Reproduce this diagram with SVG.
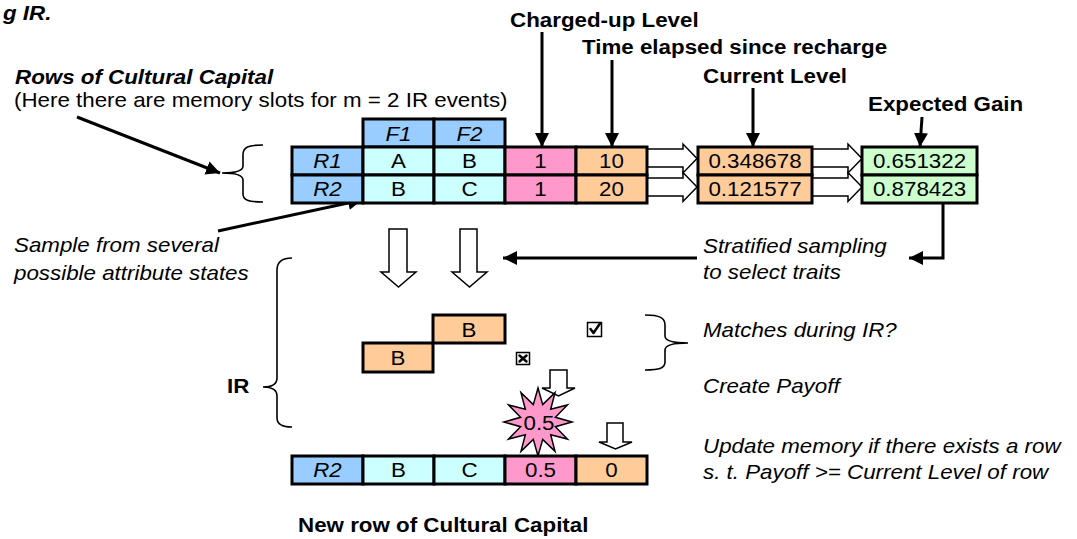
<svg xmlns="http://www.w3.org/2000/svg" width="1077" height="539" viewBox="0 0 1077 539">
<defs>
<style>
.t{font-family:"Liberation Sans",Arial,Helvetica,sans-serif;font-size:20.5px;fill:#000}
.b{font-weight:bold}
.i{font-style:italic}
.c{text-anchor:middle}
.cell{stroke:#000;stroke-width:3}
.blue{fill:#99CCFF}.cyan{fill:#CCFFFF}.pink{fill:#FF99CC}.orange{fill:#FFCC99}.green{fill:#CCFFCC}
.hollow{fill:#fff;stroke:#000;stroke-width:1.5;stroke-linejoin:miter}
.arr{fill:none;stroke:#000;stroke-width:3;marker-end:url(#ah)}
.brace{fill:none;stroke:#000;stroke-width:1.6}
.box{fill:#fff;stroke:#000;stroke-width:1.5}
.mark{fill:none;stroke:#000;stroke-width:2.5;stroke-linecap:round;stroke-linejoin:round}
</style>
<marker id="ah" markerUnits="userSpaceOnUse" markerWidth="16" markerHeight="16" refX="14" refY="7" orient="auto">
<path d="M0,0 L14,7 L0,14 z" fill="#000"/>
</marker>
</defs>
<rect width="1077" height="539" fill="#fff"/>

<g id="titles">
<text class="t b i" transform="translate(3 20) scale(1.09 1)">g IR.</text>
<text class="t b i" transform="translate(15 84) scale(1.09 1)">Rows of Cultural Capital</text>
<text class="t" transform="translate(14 107) scale(1.09 1)">(Here there are memory slots for m = 2 IR events)</text>
<text class="t b" transform="translate(510 27) scale(1.09 1)">Charged-up Level</text>
<text class="t b" transform="translate(582 54) scale(1.09 1)">Time elapsed since recharge</text>
<text class="t b" transform="translate(703 83) scale(1.09 1)">Current Level</text>
<text class="t b" transform="translate(868 111) scale(1.09 1)">Expected Gain</text>
<text class="t i" transform="translate(14 252) scale(1.09 1)">Sample from several</text>
<text class="t i" transform="translate(14 280) scale(1.09 1)">possible attribute states</text>
<text class="t i" transform="translate(703 253) scale(1.09 1)">Stratified sampling</text>
<text class="t i" transform="translate(703 279) scale(1.09 1)">to select traits</text>
<text class="t b" transform="translate(227 393) scale(1.09 1)">IR</text>
<text class="t i" transform="translate(703 337) scale(1.09 1)">Matches during IR?</text>
<text class="t i" transform="translate(703 393) scale(1.09 1)">Create Payoff</text>
<text class="t i" transform="translate(703 453) scale(1.09 1)">Update memory if there exists a row</text>
<text class="t i" transform="translate(703 479) scale(1.09 1)">s. t. Payoff &gt;= Current Level of row</text>
<text class="t b" transform="translate(298 532) scale(1.09 1)">New row of Cultural Capital</text>
</g>

<g id="connectors">
<polygon class="hollow" points="647,149 683,149 683,144 697,158.5 683,173 683,167 647,167"/>
<polygon class="hollow" points="647,178 683,178 683,172.5 697,187 683,201.5 683,196 647,196"/>
<polygon class="hollow" points="812,149 848,149 848,144 862,158.5 848,173 848,167 812,167"/>
<polygon class="hollow" points="812,178 848,178 848,172.5 862,187 848,201.5 848,196 812,196"/>
<polygon class="hollow" points="389,229 407,229 407,272 416,272 398.5,287 381,272 389,272"/>
<polygon class="hollow" points="460,229 477,229 477,272 487,272 469.5,287 452,272 460,272"/>
<polygon class="hollow" points="550,370 567,370 567,388 575,388 558.5,396 542,388 550,388"/>
<polygon class="hollow" points="607,423 623,423 623,442 632,442 615.5,449 599,442 607,442"/>
<line class="arr" x1="542" y1="32" x2="542" y2="147"/>
<line class="arr" x1="612" y1="60" x2="612" y2="147"/>
<line class="arr" x1="753" y1="88" x2="753" y2="147"/>
<line class="arr" x1="922" y1="117" x2="920" y2="147"/>
<line class="arr" x1="77" y1="117" x2="220" y2="173"/>
<line class="arr" x1="218" y1="231" x2="362" y2="200"/>
<line class="arr" x1="697" y1="258" x2="503" y2="258"/>
<polyline class="arr" points="943,203 943,258 909,258"/>
<path class="brace" d="M263,145 C248,145 243,147 243,155 L243,166 C243,171 236,173 222,173 C236,173 243,175 243,180 L243,194 C243,200 248,202 263,202"/>
<path class="brace" d="M292,258 C282,258 277,262 277,270 L277,378 C277,384 272,387 263,387 C272,387 277,390 277,396 L277,418 C277,424 282,427 292,427"/>
<path class="brace" d="M645,315 C660,315 665,318 665,325 L665,336 C665,341 672,343 688,343 C672,343 665,345 665,350 L665,362 C665,368 660,370 645,370"/>
</g>

<g id="table">
<rect class="cell blue" x="363" y="119" width="71" height="28"/>
<rect class="cell blue" x="434" y="119" width="71" height="28"/>
<text class="t i c" transform="translate(398.5 141) scale(1.09 1)">F1</text>
<text class="t i c" transform="translate(469.5 141) scale(1.09 1)">F2</text>
</g>

<g id="row-r1">
<rect class="cell blue" x="292" y="147" width="71" height="28"/>
<rect class="cell cyan" x="363" y="147" width="71" height="28"/>
<rect class="cell cyan" x="434" y="147" width="71" height="28"/>
<rect class="cell pink" x="505" y="147" width="71" height="28"/>
<rect class="cell orange" x="576" y="147" width="71" height="28"/>
<text class="t i c" transform="translate(327.5 168) scale(1.09 1)">R1</text>
<text class="t c" transform="translate(398.5 168) scale(1.09 1)">A</text>
<text class="t c" transform="translate(469.5 168) scale(1.09 1)">B</text>
<text class="t c" transform="translate(540.5 168) scale(1.09 1)">1</text>
<text class="t c" transform="translate(611.5 168) scale(1.09 1)">10</text>
</g>

<g id="row-r2">
<rect class="cell blue" x="292" y="175" width="71" height="28"/>
<rect class="cell cyan" x="363" y="175" width="71" height="28"/>
<rect class="cell cyan" x="434" y="175" width="71" height="28"/>
<rect class="cell pink" x="505" y="175" width="71" height="28"/>
<rect class="cell orange" x="576" y="175" width="71" height="28"/>
<text class="t i c" transform="translate(327.5 196) scale(1.09 1)">R2</text>
<text class="t c" transform="translate(398.5 196) scale(1.09 1)">B</text>
<text class="t c" transform="translate(469.5 196) scale(1.09 1)">C</text>
<text class="t c" transform="translate(540.5 196) scale(1.09 1)">1</text>
<text class="t c" transform="translate(611.5 196) scale(1.09 1)">20</text>
</g>

<g id="current-level">
<rect class="cell orange" x="698" y="147" width="114" height="28"/>
<rect class="cell orange" x="698" y="175" width="114" height="28"/>
<text class="t c" transform="translate(755 168) scale(1.09 1)">0.348678</text>
<text class="t c" transform="translate(755 196) scale(1.09 1)">0.121577</text>
</g>

<g id="expected-gain">
<rect class="cell green" x="862" y="147" width="115" height="28"/>
<rect class="cell green" x="862" y="175" width="115" height="28"/>
<text class="t c" transform="translate(919.5 168) scale(1.09 1)">0.651322</text>
<text class="t c" transform="translate(919.5 196) scale(1.09 1)">0.878423</text>
</g>

<g id="ir-traits">
<rect class="cell orange" x="433" y="315" width="72" height="28"/>
<rect class="cell orange" x="363" y="343" width="70" height="29"/>
<text class="t c" transform="translate(469 337) scale(1.09 1)">B</text>
<text class="t c" transform="translate(398 365) scale(1.09 1)">B</text>
</g>

<g id="match-yes">
<rect class="box" x="587.5" y="322.5" width="14" height="14"/>
<path class="mark" d="M590.5,329 L593.5,333 L600,323.5"/>
</g>

<g id="match-no">
<rect class="box" x="516.5" y="352.5" width="13" height="12"/>
<path class="mark" d="M519.5,355.5 L526.5,361.5 M526.5,355.5 L519.5,361.5"/>
</g>

<g id="payoff">
<polygon fill="#FF99CC" stroke="#000" stroke-width="1.5" points="538,388 542.7,404.6 555,392.6 550.7,409.3 567.4,405 555.4,417.3 572,422 555.4,426.7 567.4,439 550.7,434.7 555,451.4 542.7,439.4 538,456 533.3,439.4 521,451.4 525.3,434.7 508.6,439 520.6,426.7 504,422 520.6,417.3 508.6,405 525.3,409.3 521,392.6 533.3,404.6"/>
<text class="t c" transform="translate(539 430) scale(1.09 1)">0.5</text>
</g>

<g id="new-row">
<rect class="cell blue" x="292" y="456" width="71" height="28"/>
<rect class="cell cyan" x="363" y="456" width="71" height="28"/>
<rect class="cell cyan" x="434" y="456" width="71" height="28"/>
<rect class="cell pink" x="505" y="456" width="71" height="28"/>
<rect class="cell orange" x="576" y="456" width="71" height="28"/>
<text class="t i c" transform="translate(327.5 477) scale(1.09 1)">R2</text>
<text class="t c" transform="translate(398.5 477) scale(1.09 1)">B</text>
<text class="t c" transform="translate(469.5 477) scale(1.09 1)">C</text>
<text class="t c" transform="translate(540.5 477) scale(1.09 1)">0.5</text>
<text class="t c" transform="translate(611.5 477) scale(1.09 1)">0</text>
</g>
</svg>
